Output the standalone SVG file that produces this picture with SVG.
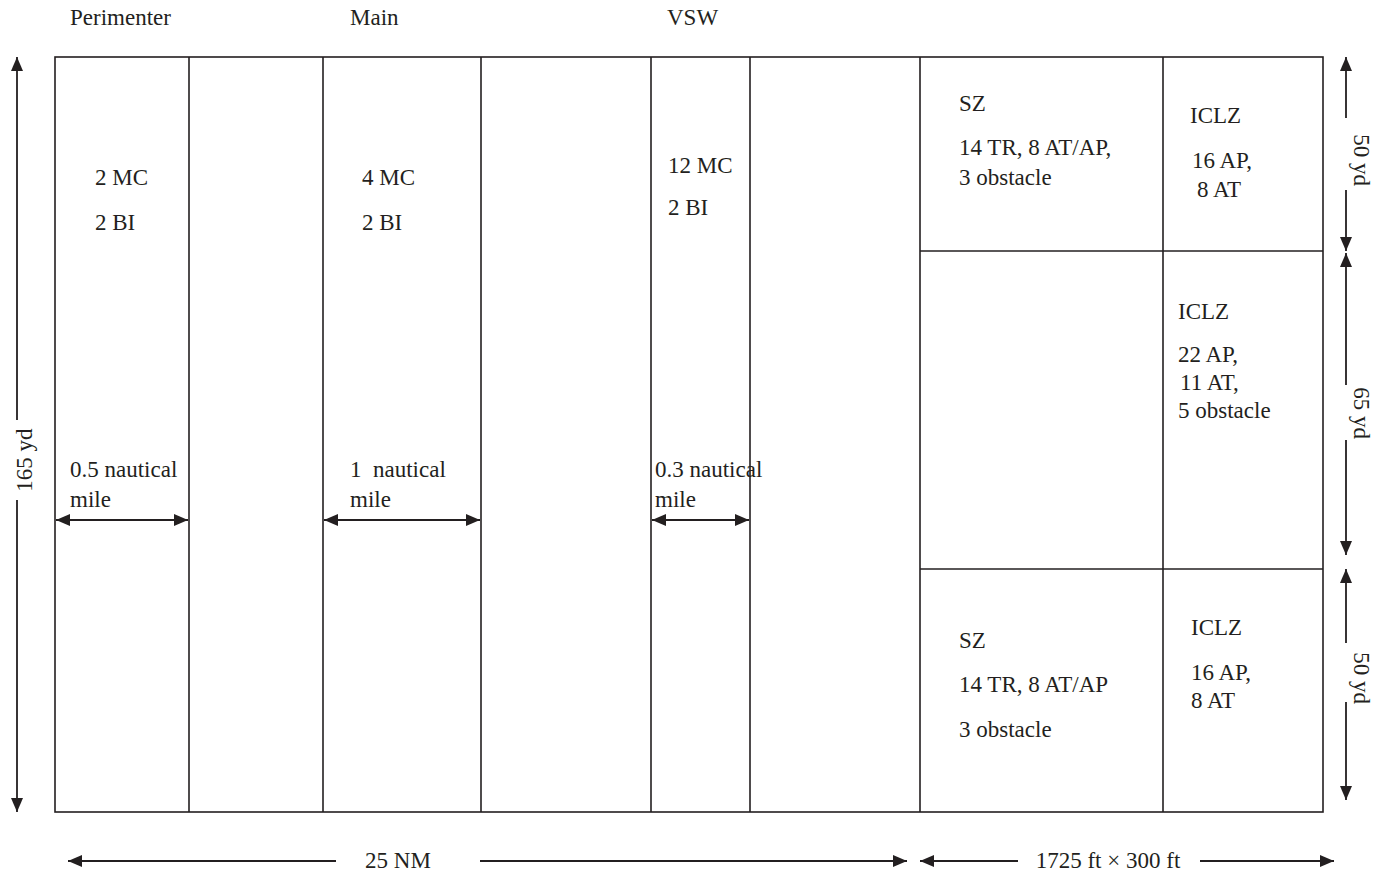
<svg xmlns="http://www.w3.org/2000/svg" width="1379" height="873" viewBox="0 0 1379 873">
<style>
text { font-family: "Liberation Serif", "Times New Roman", serif; font-size: 23px; fill: #231f20; }
.ln { stroke: #231f20; stroke-width: 1.6; fill: none; }
.ar { stroke: #231f20; stroke-width: 1.8; fill: none; marker-end: url(#ah); }
.ar2 { stroke: #231f20; stroke-width: 1.8; fill: none; marker-start: url(#ahs); marker-end: url(#ah); }
</style>
<defs>
<marker id="ah" viewBox="0 0 14 12" refX="14" refY="6" markerWidth="14" markerHeight="12" markerUnits="userSpaceOnUse" orient="auto">
<path d="M0,0 L14,6 L0,12 Z" fill="#231f20"/>
</marker>
<marker id="ahs" viewBox="0 0 14 12" refX="0" refY="6" markerWidth="14" markerHeight="12" markerUnits="userSpaceOnUse" orient="auto">
<path d="M14,0 L0,6 L14,12 Z" fill="#231f20"/>
</marker>
</defs>
<rect width="1379" height="873" fill="#ffffff"/>

<g id="headers">
<text x="70" y="25">Perimenter</text>
<text x="350" y="25">Main</text>
<text x="667" y="25">VSW</text>
</g>

<g id="frame">
<rect class="ln" x="55" y="57" width="1268" height="755"/>
<line class="ln" x1="189" y1="57" x2="189" y2="812"/>
<line class="ln" x1="323" y1="57" x2="323" y2="812"/>
<line class="ln" x1="481" y1="57" x2="481" y2="812"/>
<line class="ln" x1="651" y1="57" x2="651" y2="812"/>
<line class="ln" x1="750" y1="57" x2="750" y2="812"/>
<line class="ln" x1="920" y1="57" x2="920" y2="812"/>
<line class="ln" x1="1163" y1="57" x2="1163" y2="812"/>
<line class="ln" x1="920" y1="251" x2="1323" y2="251"/>
<line class="ln" x1="920" y1="569" x2="1323" y2="569"/>
</g>

<g id="perimeter">
<text x="95" y="185">2 MC</text>
<text x="95" y="230">2 BI</text>
<text x="70" y="477">0.5 nautical</text>
<text x="70" y="507">mile</text>
</g>

<g id="main">
<text x="362" y="185">4 MC</text>
<text x="362" y="230">2 BI</text>
<text x="350" y="477" xml:space="preserve">1  nautical</text>
<text x="350" y="507">mile</text>
</g>

<g id="vsw">
<text x="668" y="173">12 MC</text>
<text x="668" y="215">2 BI</text>
<text x="655" y="477">0.3 nautical</text>
<text x="655" y="507">mile</text>
</g>

<g id="sz-top">
<text x="959" y="111">SZ</text>
<text x="959" y="155">14 TR, 8 AT/AP,</text>
<text x="959" y="185">3 obstacle</text>
</g>
<g id="iclz-top">
<text x="1190" y="123">ICLZ</text>
<text x="1192" y="168">16 AP,</text>
<text x="1197" y="197">8 AT</text>
</g>
<g id="iclz-mid">
<text x="1178" y="319">ICLZ</text>
<text x="1178" y="362">22 AP,</text>
<text x="1180" y="390">11 AT,</text>
<text x="1178" y="418">5 obstacle</text>
</g>
<g id="sz-bottom">
<text x="959" y="648">SZ</text>
<text x="959" y="692">14 TR, 8 AT/AP</text>
<text x="959" y="737">3 obstacle</text>
</g>
<g id="iclz-bottom">
<text x="1191" y="635">ICLZ</text>
<text x="1191" y="680">16 AP,</text>
<text x="1191" y="708">8 AT</text>
</g>

<g id="connectors">
<line class="ar2" x1="56" y1="520" x2="188" y2="520"/>
<line class="ar2" x1="324" y1="520" x2="480" y2="520"/>
<line class="ar2" x1="652" y1="520" x2="749" y2="520"/>

<line class="ar" x1="17" y1="420" x2="17" y2="57"/>
<line class="ar" x1="17" y1="500" x2="17" y2="812"/>

<line class="ar" x1="1346" y1="118" x2="1346" y2="57"/>
<line class="ar" x1="1346" y1="190" x2="1346" y2="251"/>
<line class="ar" x1="1346" y1="385" x2="1346" y2="253"/>
<line class="ar" x1="1346" y1="440" x2="1346" y2="555"/>
<line class="ar" x1="1346" y1="643" x2="1346" y2="569"/>
<line class="ar" x1="1346" y1="702" x2="1346" y2="800"/>

<line class="ar" x1="336" y1="861" x2="68" y2="861"/>
<line class="ar" x1="480" y1="861" x2="907" y2="861"/>
<line class="ar" x1="1018" y1="861" x2="920" y2="861"/>
<line class="ar" x1="1200" y1="861" x2="1334" y2="861"/>
</g>

<g id="dimension-labels">
<text x="398" y="868" text-anchor="middle">25 NM</text>
<text x="1108" y="868" text-anchor="middle">1725 ft × 300 ft</text>
<text transform="translate(32,460) rotate(-90)" text-anchor="middle">165 yd</text>
<text transform="translate(1354,160) rotate(90)" text-anchor="middle">50 yd</text>
<text transform="translate(1354,413) rotate(90)" text-anchor="middle">65 yd</text>
<text transform="translate(1354,678) rotate(90)" text-anchor="middle">50 yd</text>
</g>
</svg>
